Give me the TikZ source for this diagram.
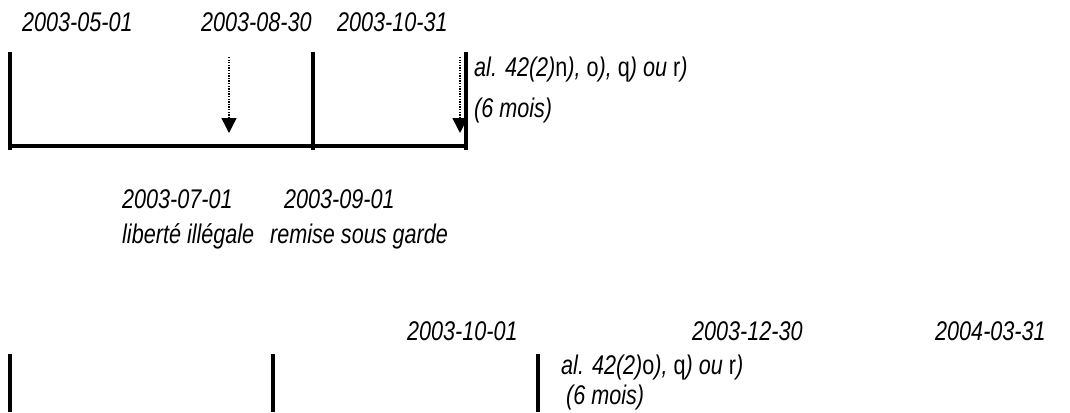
\documentclass[tikz,border=0pt]{standalone}
\usepackage{fontspec}
\newfontfamily\narr{Liberation Sans}[FakeStretch=0.8]
\usetikzlibrary{arrows.meta}
\begin{document}
\begin{tikzpicture}[x=1pt,y=-1pt,
  lbl/.style={anchor=base west,inner sep=0pt,font=\narr\itshape\fontsize{27}{30}\selectfont},
  bar/.style={line width=4.2pt},
  dotarrow/.style={line width=1.4pt,dash pattern=on 1.3pt off 1.3pt,-{Triangle[width=15pt,length=15pt]}}]
\useasboundingbox (0,0) rectangle (1070,412);
% ---- top timeline
\node[lbl] (d1) at (22,32) {2003-05-01};
\node[lbl] (d2) at (201,32) {2003-08-30};
\node[lbl] (d3) at (337,32) {2003-10-31};
\coordinate (a1) at (229,57); \coordinate (a1e) at (229,133);
\coordinate (a2) at (460,57); \coordinate (a2e) at (460,133);
\draw[dotarrow] (a1) -- (a1e);
\draw[dotarrow] (a2) -- (a2e);
\coordinate (b1t) at (10,52);  \coordinate (b1b) at (10,150);
\coordinate (b2t) at (313,52); \coordinate (b2b) at (313,150);
\coordinate (b3t) at (466,52); \coordinate (b3b) at (466,150);
\coordinate (hl) at (8,146); \coordinate (hr) at (468,146);
\draw[bar] (b1t) -- (b1b);
\draw[bar] (b2t) -- (b2b);
\draw[bar] (b3t) -- (b3b);
\draw[bar] (hl) -- (hr);
\node[lbl] (t1) at (474,77) {al. 42(2)\upshape n\itshape), \upshape o\itshape), \upshape q\itshape) ou \upshape r\itshape)};
\node[lbl] (t2) at (474,117) {(6 mois)};
% ---- middle labels
\node[lbl] (m1) at (122,208) {2003-07-01};
\node[lbl] (m2) at (284,208) {2003-09-01};
\node[lbl] (m3) at (122,243) {liberté illégale};
\node[lbl] (m4) at (270,243) {remise sous garde};
% ---- bottom timeline
\node[lbl] (e1) at (407,340) {2003-10-01};
\node[lbl] (e2) at (692,340) {2003-12-30};
\node[lbl] (e3) at (935,340) {2004-03-31};
\coordinate (c1t) at (10,354);  \coordinate (c1b) at (10,412);
\coordinate (c2t) at (273,354); \coordinate (c2b) at (273,412);
\coordinate (c3t) at (538,354); \coordinate (c3b) at (538,412);
\draw[bar] (c1t) -- (c1b);
\draw[bar] (c2t) -- (c2b);
\draw[bar] (c3t) -- (c3b);
\node[lbl] (u1) at (561,374) {al. 42(2)\upshape o\itshape), \upshape q\itshape) ou \upshape r\itshape)};
\node[lbl] (u2) at (566,404) {(6 mois)};
\end{tikzpicture}
\end{document}
